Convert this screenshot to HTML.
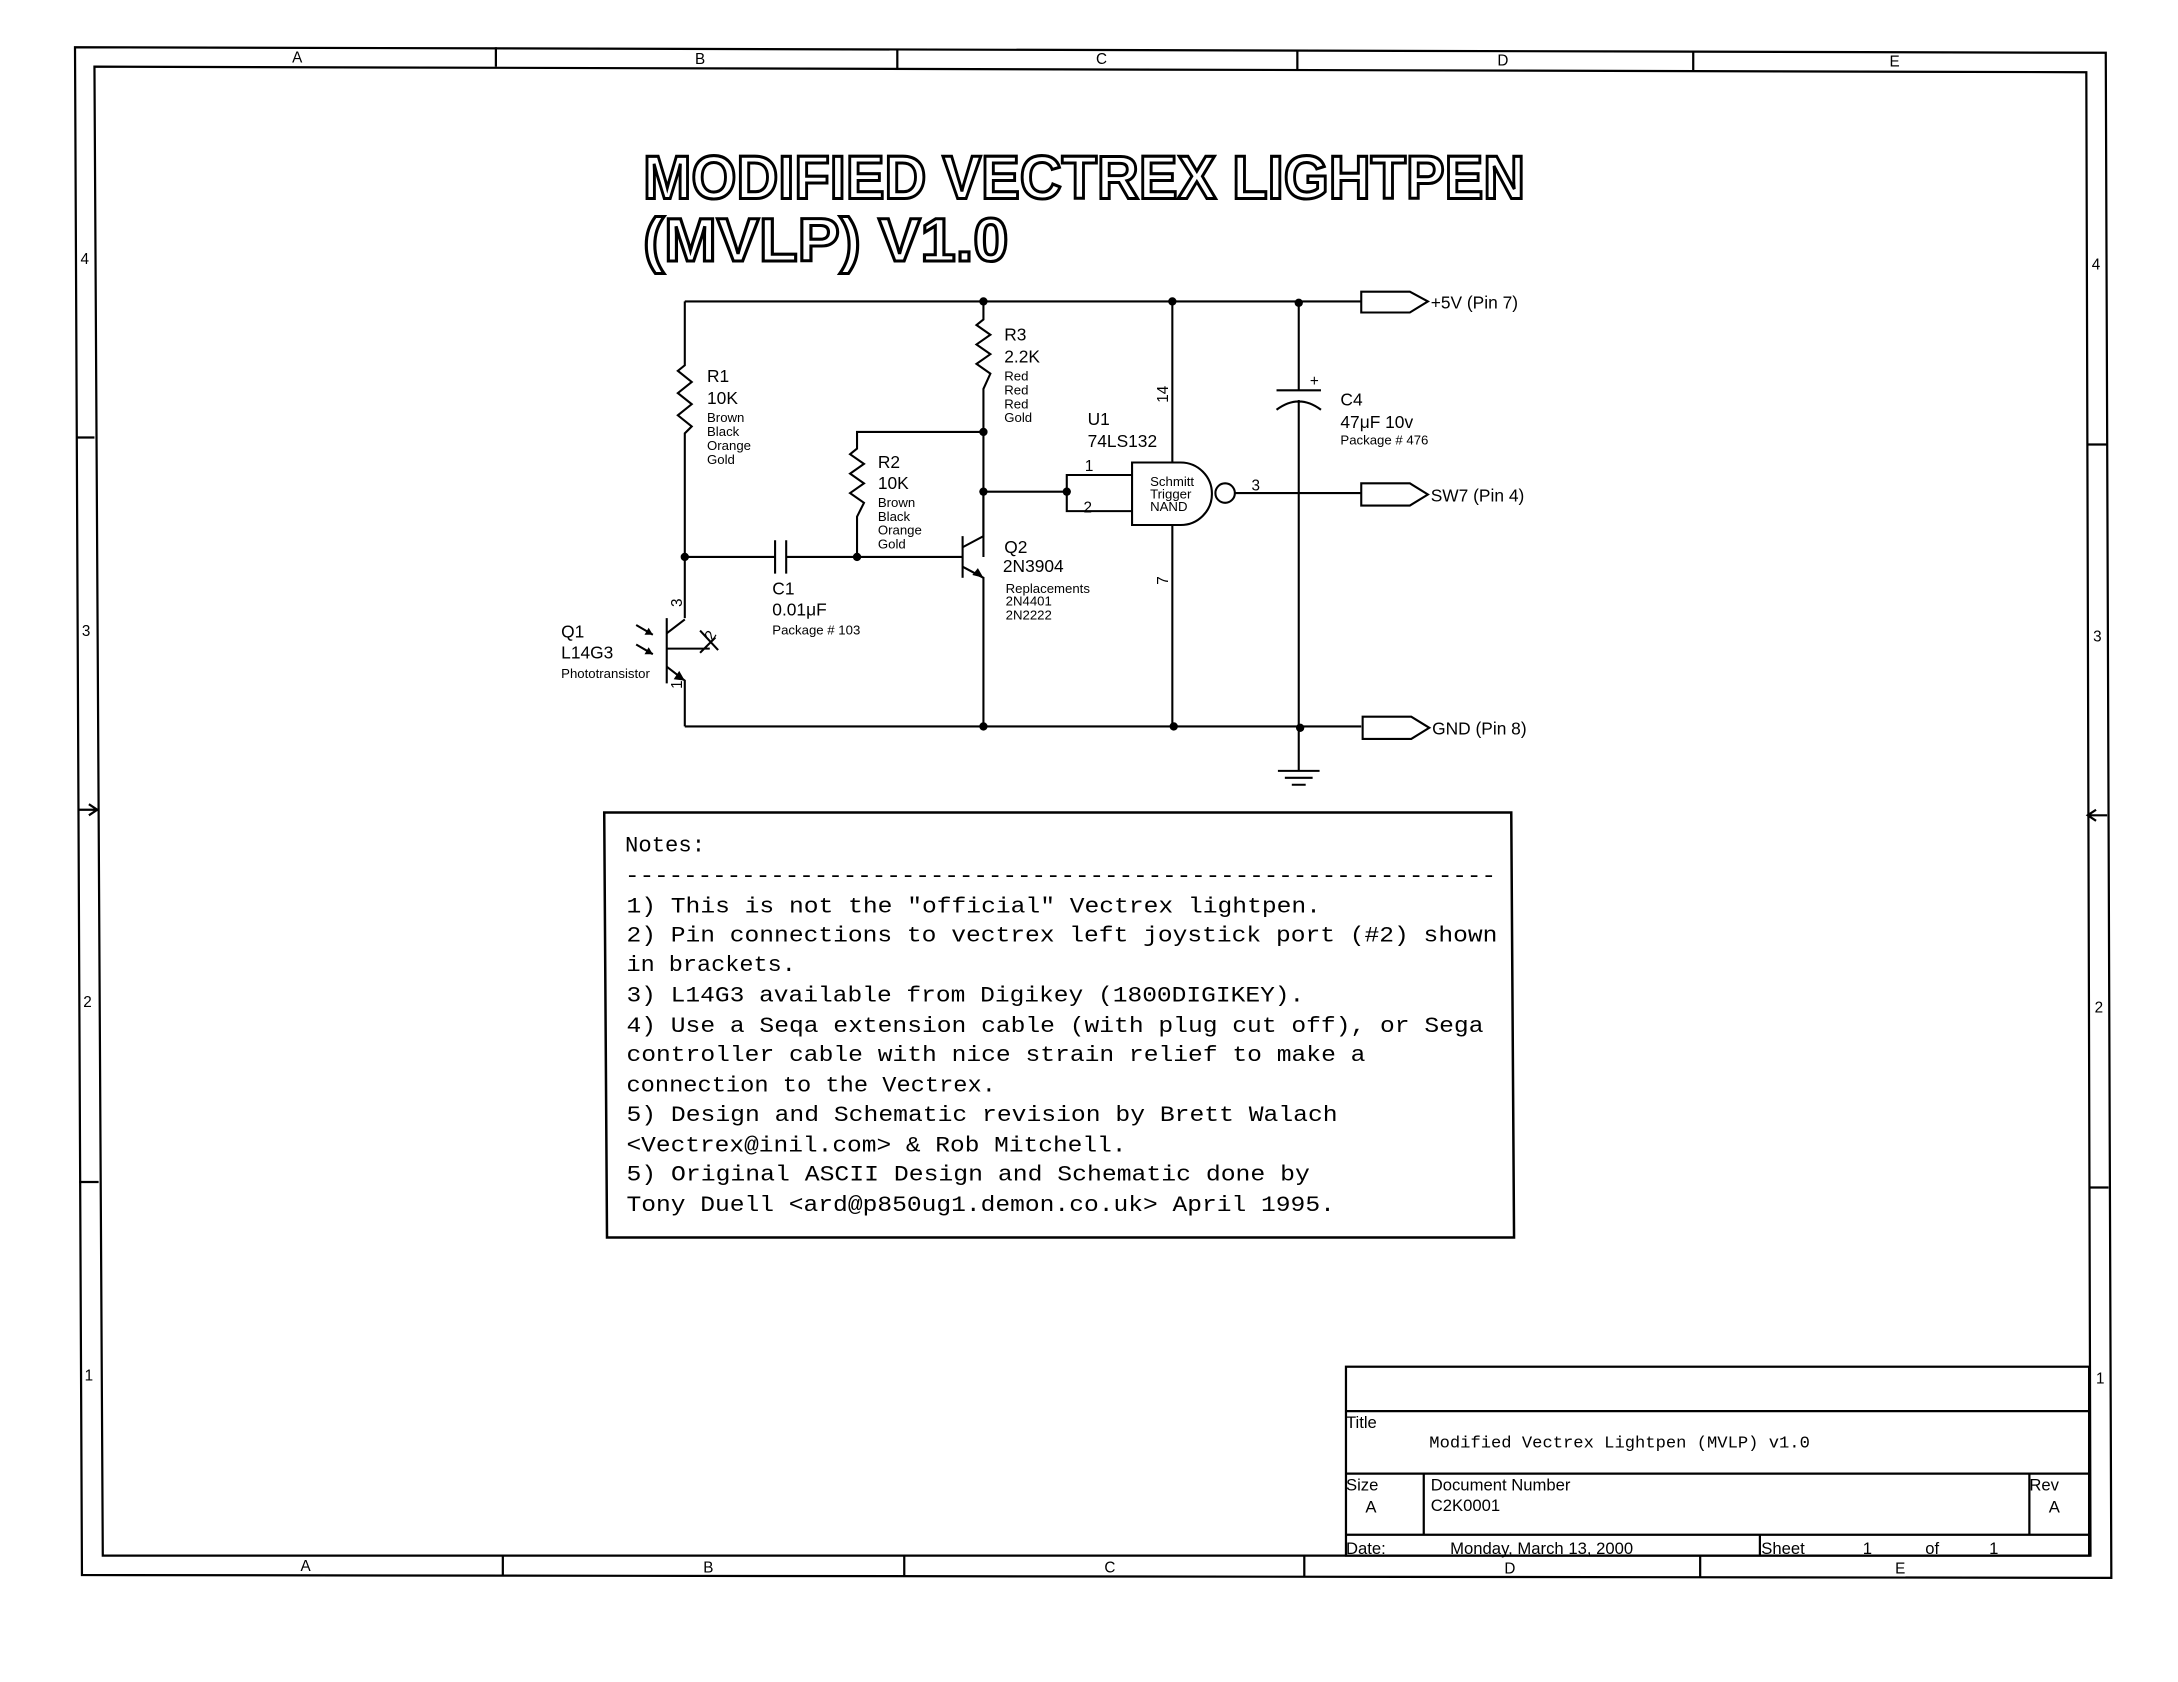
<!DOCTYPE html>
<html><head><meta charset="utf-8"><style>
html,body{margin:0;padding:0;background:#fff;}
svg{display:block;}
text{font-family:"Liberation Sans",sans-serif;fill:#000;}
.m{font-family:"Liberation Mono",monospace;}
</style></head><body>
<svg width="2178" height="1682" viewBox="0 0 1568 1211" preserveAspectRatio="none" xmlns="http://www.w3.org/2000/svg">
<g fill="none" stroke="#000" stroke-width="1.6">
<polygon points="54,34 1516,38 1520,1136 59,1134"/>
<polygon points="68,48 1502,52 1505,1120 74,1120"/>
<line x1="357" y1="34" x2="357" y2="48"/><line x1="646" y1="35" x2="646" y2="49"/><line x1="934" y1="36" x2="934" y2="50"/><line x1="1219" y1="37" x2="1219" y2="51"/>
<line x1="362" y1="1120" x2="362" y2="1135"/><line x1="651" y1="1120" x2="651" y2="1135"/><line x1="939" y1="1120" x2="939" y2="1135"/><line x1="1224" y1="1120" x2="1224" y2="1136"/>
<line x1="55" y1="315" x2="68" y2="315"/><line x1="57" y1="851" x2="71" y2="851"/>
<line x1="1503" y1="320" x2="1517" y2="320"/><line x1="1504" y1="855" x2="1518" y2="855"/>
</g>
<path d="M56 583 L70 583 M64 579 L70 583 L64 587" stroke="#000" stroke-width="1.6" fill="none"/>
<path d="M1517 587 L1503 587 M1509 583 L1503 587 L1509 591" stroke="#000" stroke-width="1.6" fill="none"/>
<g font-size="11" text-anchor="middle">
<text x="214" y="45">A</text><text x="504" y="46">B</text><text x="793" y="46">C</text><text x="1082" y="47">D</text><text x="1364" y="48">E</text>
<text x="220" y="1131">A</text><text x="510" y="1132">B</text><text x="799" y="1132">C</text><text x="1087" y="1133">D</text><text x="1368" y="1133">E</text>
<text x="61" y="190">4</text><text x="62" y="458">3</text><text x="63" y="725">2</text><text x="64" y="994">1</text>
<text x="1509" y="194">4</text><text x="1510" y="462">3</text><text x="1511" y="729">2</text><text x="1512" y="996">1</text>
</g>
<g font-family="Liberation Sans" font-weight="bold" font-size="44" fill="#fff" stroke="#000" stroke-width="2.2">
<text x="463" y="143" textLength="635" lengthAdjust="spacingAndGlyphs" style="fill:#fff">MODIFIED VECTREX LIGHTPEN</text>
<text x="463" y="188" textLength="263" lengthAdjust="spacingAndGlyphs" style="fill:#fff">(MVLP) V1.0</text>
</g>
<g fill="none" stroke="#000" stroke-width="1.5">
<path d="M493 217 L980 217"/>
<path d="M493 523 L980 523"/>
<path d="M493 217 L493 263 L488 267 L498 275 L488 283 L498 291 L488 299 L498 307 L493 312 L493 445"/>
<path d="M708 217 L708 230 L703 234 L713 241 L703 248 L713 255 L703 262 L713 269 L708 280 L708 401"/>
<path d="M708 311 L617 311 L617 323 L612 327 L622 334 L612 341 L622 348 L612 355 L622 362 L617 372 L617 401"/>
<path d="M493 401 L558 401 M566 401 L693 401"/>
<path d="M558 389 L558 413 M566 389 L566 413"/>
<path d="M693 386 L693 416"/>
<path d="M693 394 L708 386 L708 354"/>
<path d="M693 408 L708 416 L708 523"/>
<path d="M708 354 L768 354"/>
<path d="M815 342 L768 342 L768 368 L815 368"/>
<path d="M815 333 L850 333 A22.5 22.5 0 0 1 850 378 L815 378 Z"/>
<circle cx="882" cy="355" r="7"/>
<path d="M889 355 L980 355"/>
<path d="M844 217 L844 333 M844 378 L844 523"/>
<path d="M935 217 L935 281 M919 281 L951 281 M919 295 Q935 283 951 295 M935 288 L935 555"/>
<path d="M920 555 L950 555 M925 560 L945 560 M930 565 L940 565"/>
<path d="M980 210 L1015 210 L1028 217 L1015 225 L980 225 Z"/>
<path d="M980 348 L1015 348 L1028 356 L1015 364 L980 364 Z"/>
<path d="M981 516 L1016 516 L1029 524 L1016 532 L981 532 Z"/>
<path d="M480 445 L480 492"/>
<path d="M480 456 L493 446"/>
<path d="M480 480 L493 490 L493 523"/>
<path d="M480 467 L511 467 M504 454 L517 468 M504 470 L515 459"/>
<path d="M458 450 L470 457 M458 464 L470 471"/>
</g>
<g fill="#000">
<circle cx="708" cy="217" r="3"/><circle cx="844" cy="217" r="3"/><circle cx="935" cy="218" r="3"/>
<circle cx="708" cy="523" r="3"/><circle cx="845" cy="523" r="3"/><circle cx="936" cy="524" r="3"/>
<circle cx="493" cy="401" r="3"/><circle cx="617" cy="401" r="3"/><circle cx="708" cy="311" r="3"/><circle cx="708" cy="354" r="3"/><circle cx="768" cy="354" r="3"/>
<path d="M708 416 L700 414 L704 409 Z"/>
<path d="M493 490 L485 489 L489 483 Z"/>
<path d="M470 457 L464 457 L467 452 Z"/><path d="M470 471 L464 471 L467 466 Z"/>
</g>
<g font-size="12.5">
<text x="1030" y="222">+5V (Pin 7)</text>
<text x="1030" y="361">SW7 (Pin 4)</text>
<text x="1031" y="529">GND (Pin 8)</text>
<text x="509" y="275">R1</text><text x="509" y="291">10K</text>
<text x="723" y="245">R3</text><text x="723" y="261">2.2K</text>
<text x="632" y="337">R2</text><text x="632" y="352">10K</text>
<text x="783" y="306">U1</text><text x="783" y="322">74LS132</text>
<text x="965" y="292">C4</text><text x="965" y="308">47μF 10v</text>
<text x="723" y="398">Q2</text><text x="722" y="412">2N3904</text>
<text x="556" y="428">C1</text><text x="556" y="443">0.01μF</text>
<text x="404" y="459">Q1</text><text x="404" y="474">L14G3</text>
<text x="781" y="339" font-size="11">1</text><text x="780" y="369" font-size="11">2</text><text x="901" y="353" font-size="11">3</text>
</g>
<g font-size="9.5">
<text x="509" y="304">Brown</text><text x="509" y="314">Black</text><text x="509" y="324">Orange</text><text x="509" y="334">Gold</text>
<text x="723" y="274">Red</text><text x="723" y="284">Red</text><text x="723" y="294">Red</text><text x="723" y="304">Gold</text>
<text x="632" y="365">Brown</text><text x="632" y="375">Black</text><text x="632" y="385">Orange</text><text x="632" y="395">Gold</text>
<text x="724" y="427">Replacements</text><text x="724" y="436">2N4401</text><text x="724" y="446">2N2222</text>
<text x="556" y="457">Package # 103</text>
<text x="965" y="320">Package # 476</text>
<text x="404" y="488">Phototransistor</text>
<text x="828" y="350">Schmitt</text><text x="828" y="359">Trigger</text><text x="828" y="368">NAND</text>
<text x="943" y="278" font-size="11">+</text>
</g>
<g font-size="11">
<text transform="translate(841,290) rotate(-90)">14</text>
<text transform="translate(841,421) rotate(-90)">7</text>
<text transform="translate(491,437) rotate(-90)">3</text>
<text transform="translate(491,496) rotate(-90)">1</text>
<text transform="translate(513,462) rotate(-60)">2</text>
</g>
<polygon points="435,585 1088,585 1090,891 437,891" fill="none" stroke="#000" stroke-width="1.8"/>
<g class="m" font-size="16">
<text class="m" x="450" y="613">Notes:</text>
<text class="m" x="450" y="635" textLength="627" lengthAdjust="spacingAndGlyphs">------------------------------------------------------------</text>
<text class="m" x="451" y="657" textLength="500" lengthAdjust="spacingAndGlyphs">1) This is not the "official" Vectrex lightpen.</text>
<text class="m" x="451" y="678" textLength="627" lengthAdjust="spacingAndGlyphs">2) Pin connections to vectrex left joystick port (#2) shown</text>
<text class="m" x="451" y="699" textLength="122" lengthAdjust="spacingAndGlyphs">in brackets.</text>
<text class="m" x="451" y="721" textLength="488" lengthAdjust="spacingAndGlyphs">3) L14G3 available from Digikey (1800DIGIKEY).</text>
<text class="m" x="451" y="743" textLength="617" lengthAdjust="spacingAndGlyphs">4) Use a Seqa extension cable (with plug cut off), or Sega</text>
<text class="m" x="451" y="764" textLength="532" lengthAdjust="spacingAndGlyphs">controller cable with nice strain relief to make a</text>
<text class="m" x="451" y="786" textLength="266" lengthAdjust="spacingAndGlyphs">connection to the Vectrex.</text>
<text class="m" x="451" y="807" textLength="512" lengthAdjust="spacingAndGlyphs">5) Design and Schematic revision by Brett Walach</text>
<text class="m" x="451" y="829" textLength="360" lengthAdjust="spacingAndGlyphs">&lt;Vectrex@inil.com&gt; &amp; Rob Mitchell.</text>
<text class="m" x="451" y="850" textLength="492" lengthAdjust="spacingAndGlyphs">5) Original ASCII Design and Schematic done by</text>
<text class="m" x="451" y="872" textLength="510" lengthAdjust="spacingAndGlyphs">Tony Duell &lt;ard@p850ug1.demon.co.uk&gt; April 1995.</text>
</g>
<g fill="none" stroke="#000" stroke-width="1.6">
<rect x="969" y="984" width="535" height="136"/>
<line x1="969" y1="1016" x2="1504" y2="1016"/>
<line x1="969" y1="1061" x2="1504" y2="1061"/>
<line x1="969" y1="1105" x2="1504" y2="1105"/>
<line x1="1025" y1="1061" x2="1025" y2="1105"/>
<line x1="1461" y1="1061" x2="1461" y2="1105"/>
<line x1="1267" y1="1105" x2="1267" y2="1120"/>
</g>
<g font-size="12">
<text x="969" y="1028">Title</text>
<text x="969" y="1073">Size</text><text x="983" y="1089">A</text>
<text x="1030" y="1073">Document Number</text><text x="1030" y="1088">C2K0001</text>
<text x="1461" y="1073">Rev</text><text x="1475" y="1089">A</text>
<text x="969" y="1119">Date:</text><text x="1044" y="1119">Monday, March 13, 2000</text>
<text x="1268" y="1119">Sheet</text><text x="1341" y="1119">1</text><text x="1386" y="1119">of</text><text x="1432" y="1119">1</text>
</g>
<text class="m" x="1029" y="1042" font-size="12" textLength="274" lengthAdjust="spacingAndGlyphs" fill="#333">Modified Vectrex Lightpen (MVLP) v1.0</text>
</svg>
</body></html>
